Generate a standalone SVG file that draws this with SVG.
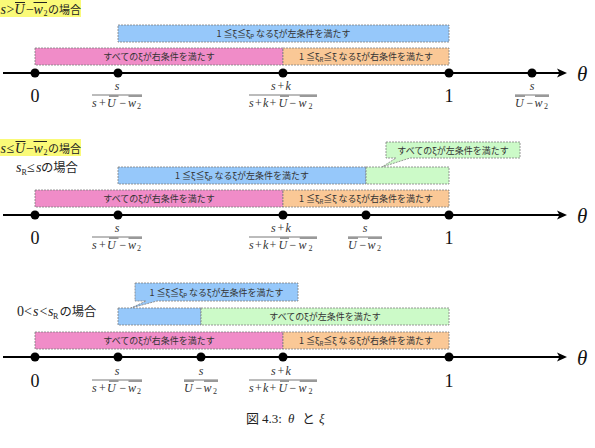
<svg xmlns="http://www.w3.org/2000/svg" xmlns:xlink="http://www.w3.org/1999/xlink" width="595" height="448" viewBox="0 0 595 448">
<style>
.bx{stroke:#7f7f7f;stroke-width:0.8;stroke-dasharray:2 1}
.blue{fill:#96c8fa}.pink{fill:#f08cc8}.orange{fill:#fac896}.green{fill:#ccfac8}.yellow{fill:#fafa78}
.jp{font-family:"Noto Sans CJK JP","Noto Sans",sans-serif;font-size:9px;fill:#333;text-anchor:middle}
.m{font-family:"Liberation Serif",serif;font-style:italic;font-size:12px;fill:#333}
.r{font-family:"Liberation Serif",serif;font-style:normal}
.sub{font-size:8px}
.big{font-family:"Liberation Serif",serif;font-size:18px;fill:#111;text-anchor:middle}
.th{font-family:"Liberation Serif",serif;font-style:italic;font-size:21px;fill:#111}
.lab{font-family:"Liberation Serif",serif;font-style:italic;font-size:14px;fill:#222}
.cjk{font-family:"Noto Sans CJK JP",sans-serif;font-style:normal}
.axis{stroke:#000;stroke-width:2}
.fl{stroke:#555;stroke-width:0.8}
.ol{stroke:#999;stroke-width:2}
.olb{stroke:#222;stroke-width:1}
</style>
<defs>
<g id="fracA">
<line class="fl" x1="-25" y1="0" x2="25" y2="0"/>
<line class="ol" x1="-8" y1="1" x2="1.5" y2="1"/>
<line class="ol" x1="11.5" y1="1" x2="25" y2="1"/>
<text class="m" x="0" y="-5" text-anchor="middle">s</text>
<text class="m" y="11.5"><tspan x="-25">s</tspan><tspan class="r" x="-18">+</tspan><tspan x="-10">U</tspan><tspan class="r" x="2.5">−</tspan><tspan x="11">w</tspan><tspan class="r sub" x="20" y="14">2</tspan></text>
</g>
<g id="fracB">
<line class="fl" x1="-34" y1="0" x2="34" y2="0"/>
<line class="ol" x1="-3" y1="1" x2="6" y2="1"/>
<line class="ol" x1="16.7" y1="1" x2="34" y2="1"/>
<text class="m" y="-5"><tspan x="-12">s</tspan><tspan class="r" x="-5.5">+</tspan><tspan x="2.5">k</tspan></text>
<text class="m" y="11.5"><tspan x="-34">s</tspan><tspan class="r" x="-28">+</tspan><tspan x="-20">k</tspan><tspan class="r" x="-13.5">+</tspan><tspan x="-4.5">U</tspan><tspan class="r" x="6.5">−</tspan><tspan x="15.5">w</tspan><tspan class="r sub" x="25.5" y="14">2</tspan></text>
</g>
<g id="fracC">
<line class="fl" x1="-17" y1="0" x2="17" y2="0"/>
<line class="ol" x1="-17" y1="1" x2="-7" y2="1"/>
<line class="ol" x1="3" y1="1" x2="17" y2="1"/>
<text class="m" x="0" y="-5" text-anchor="middle">s</text>
<text class="m" y="11.5"><tspan x="-17">U</tspan><tspan class="r" x="-5.5">−</tspan><tspan x="2.5">w</tspan><tspan class="r sub" x="12" y="14">2</tspan></text>
</g>
<g id="arrow"><polygon points="567,0 557,-4.5 559.5,0 557,4.5" fill="#000"/></g>
</defs>

<!-- Panel 1 -->
<g id="panel1">
<g id="p1-title">
<rect class="yellow" x="0" y="0" width="81" height="17"/>
<text class="lab" y="13.5"><tspan x="0.5">s</tspan><tspan class="r" x="6.5">&gt;</tspan><tspan x="14.5">U</tspan><tspan class="r" x="26">−</tspan><tspan x="33.5">w</tspan><tspan class="r sub" x="43.5" y="16">2</tspan><tspan class="cjk" x="48" y="13.5" font-size="11">の場合</tspan></text>
<line class="olb" x1="15" y1="2.5" x2="25" y2="2.5"/>
<line class="olb" x1="33.5" y1="2.5" x2="47" y2="2.5"/>
</g>
<g id="p1-left-all">
<rect class="bx blue" x="118" y="25" width="331" height="17"/>
<text class="jp" x="283.5" y="36.8">1 ≦ξ≦ξ<tspan font-size="6" dy="2">P</tspan><tspan dy="-2"> なるξが左条件を満たす</tspan></text>
</g>
<g id="p1-right-all">
<rect class="bx pink" x="35" y="48" width="248" height="17"/>
<text class="jp" x="159" y="59.8">すべてのξが右条件を満たす</text>
</g>
<g id="p1-right-r">
<rect class="bx orange" x="283" y="48" width="166" height="17"/>
<text class="jp" x="366" y="59.8">1 ≦ξ<tspan font-size="6" dy="2">R</tspan><tspan dy="-2">≦ξ なるξが右条件を満たす</tspan></text>
</g>
</g>

<!-- Panel 2 -->
<g id="panel2">
<g id="p2-title">
<rect class="yellow" x="0" y="139" width="81" height="17"/>
<text class="lab" y="152.5"><tspan x="0.5">s</tspan><tspan class="r" x="6.5">≤</tspan><tspan x="15">U</tspan><tspan class="r" x="26">−</tspan><tspan x="33.5">w</tspan><tspan class="r sub" x="43.5" y="155">2</tspan><tspan class="cjk" x="48" y="152.5" font-size="11">の場合</tspan></text>
<line class="olb" x1="15.5" y1="141.5" x2="25.5" y2="141.5"/>
<line class="olb" x1="33.5" y1="141.5" x2="47" y2="141.5"/>
</g>
<g id="p2-case">
<text class="lab" y="172" fill="#444" font-size="13"><tspan x="16">s</tspan><tspan class="r sub" x="21.5" y="175" font-size="7">R</tspan><tspan class="r" x="27" y="172">≤</tspan><tspan x="36">s</tspan><tspan class="cjk" x="41" font-size="12.3">の場合</tspan></text>
</g>
<g id="p2-callout">
<path class="bx green" d="M386,142 H520 V158 H410 L382,167 L396,158 H386 Z"/>
<text class="jp" x="453" y="153.5">すべてのξが左条件を満たす</text>
</g>
<g id="p2-left-p">
<rect class="bx blue" x="118" y="167" width="248" height="17"/>
<text class="jp" x="242" y="178.8">1 ≦ξ≦ξ<tspan font-size="6" dy="2">P</tspan><tspan dy="-2"> なるξが左条件を満たす</tspan></text>
</g>
<g id="p2-left-all">
<rect class="bx green" x="366" y="167" width="83" height="17"/>
</g>
<g id="p2-right-all">
<rect class="bx pink" x="35" y="190" width="248" height="17"/>
<text class="jp" x="159" y="201.8">すべてのξが右条件を満たす</text>
</g>
<g id="p2-right-r">
<rect class="bx orange" x="283" y="190" width="166" height="17"/>
<text class="jp" x="366" y="201.8">1 ≦ξ<tspan font-size="6" dy="2">R</tspan><tspan dy="-2">≦ξ なるξが右条件を満たす</tspan></text>
</g>
</g>

<!-- Panel 3 -->
<g id="panel3">
<g id="p3-case">
<text class="lab" y="316" fill="#444" font-size="13"><tspan class="r" x="17">0</tspan><tspan class="r" x="24">&lt;</tspan><tspan x="33">s</tspan><tspan class="r" x="39.5">&lt;</tspan><tspan x="48">s</tspan><tspan class="r sub" x="53" y="319" font-size="7">R</tspan><tspan class="cjk" x="59.5" y="316" font-size="12.3">の場合</tspan></text>
</g>
<g id="p3-callout">
<path class="bx blue" d="M135,283 H298 V301 H157 L131,308 L146,301 H135 Z"/>
<text class="jp" x="216.5" y="295.5">1 ≦ξ≦ξ<tspan font-size="6" dy="2">P</tspan><tspan dy="-2"> なるξが左条件を満たす</tspan></text>
</g>
<g id="p3-left-p">
<rect class="bx blue" x="118" y="308" width="83" height="17"/>
</g>
<g id="p3-left-all">
<rect class="bx green" x="201" y="308" width="248" height="17"/>
<text class="jp" x="325" y="319.8">すべてのξが左条件を満たす</text>
</g>
<g id="p3-right-all">
<rect class="bx pink" x="35" y="332" width="248" height="17"/>
<text class="jp" x="159" y="343.8">すべてのξが右条件を満たす</text>
</g>
<g id="p3-right-r">
<rect class="bx orange" x="283" y="332" width="166" height="17"/>
<text class="jp" x="366" y="343.8">1 ≦ξ<tspan font-size="6" dy="2">R</tspan><tspan dy="-2">≦ξ なるξが右条件を満たす</tspan></text>
</g>
</g>

<!-- Axes (connectors) -->
<g id="connectors">
<line class="axis" x1="3" y1="73" x2="560" y2="73"/>
<use href="#arrow" xlink:href="#arrow" transform="translate(0,73)"/>
<line class="axis" x1="3" y1="215" x2="560" y2="215"/>
<use href="#arrow" xlink:href="#arrow" transform="translate(0,215)"/>
<line class="axis" x1="3" y1="357" x2="560" y2="357"/>
<use href="#arrow" xlink:href="#arrow" transform="translate(0,357)"/>
</g>

<!-- Points and labels -->
<g id="points" fill="#000">
<circle cx="35" cy="73" r="4.5"/><circle cx="118" cy="73" r="4.5"/><circle cx="283" cy="73" r="4.5"/><circle cx="449" cy="73" r="4.5"/><circle cx="532" cy="73" r="4.5"/>
<circle cx="35" cy="215" r="4.5"/><circle cx="118" cy="215" r="4.5"/><circle cx="283" cy="215" r="4.5"/><circle cx="366" cy="215" r="4.5"/><circle cx="449" cy="215" r="4.5"/>
<circle cx="35" cy="357" r="4.5"/><circle cx="118" cy="357" r="4.5"/><circle cx="201" cy="357" r="4.5"/><circle cx="283" cy="357" r="4.5"/><circle cx="449" cy="357" r="4.5"/>
</g>
<g id="labels">
<text class="th" x="577" y="81">θ</text>
<text class="th" x="577" y="223">θ</text>
<text class="th" x="577" y="365">θ</text>
<text class="big" x="35" y="102">0</text>
<text class="big" x="449" y="102">1</text>
<use href="#fracA" xlink:href="#fracA" transform="translate(117,95)"/>
<use href="#fracB" xlink:href="#fracB" transform="translate(283,95)"/>
<use href="#fracC" xlink:href="#fracC" transform="translate(532,95)"/>
<text class="big" x="35" y="244">0</text>
<text class="big" x="449" y="244">1</text>
<use href="#fracA" xlink:href="#fracA" transform="translate(117,237)"/>
<use href="#fracB" xlink:href="#fracB" transform="translate(283,237)"/>
<use href="#fracC" xlink:href="#fracC" transform="translate(365,237)"/>
<text class="big" x="35" y="387">0</text>
<text class="big" x="449" y="387">1</text>
<use href="#fracA" xlink:href="#fracA" transform="translate(117,380)"/>
<use href="#fracC" xlink:href="#fracC" transform="translate(201,380)"/>
<use href="#fracB" xlink:href="#fracB" transform="translate(283,380)"/>
</g>

<g id="caption">
<text y="423" font-family="Liberation Serif, serif" font-size="13" fill="#222"><tspan x="246" font-family="Noto Sans CJK JP, sans-serif">図</tspan><tspan x="262">4.3:</tspan><tspan x="288" font-style="italic">θ</tspan><tspan x="302" font-family="Noto Sans CJK JP, sans-serif">と</tspan><tspan x="319" font-style="italic">ξ</tspan></text>
</g>
</svg>
